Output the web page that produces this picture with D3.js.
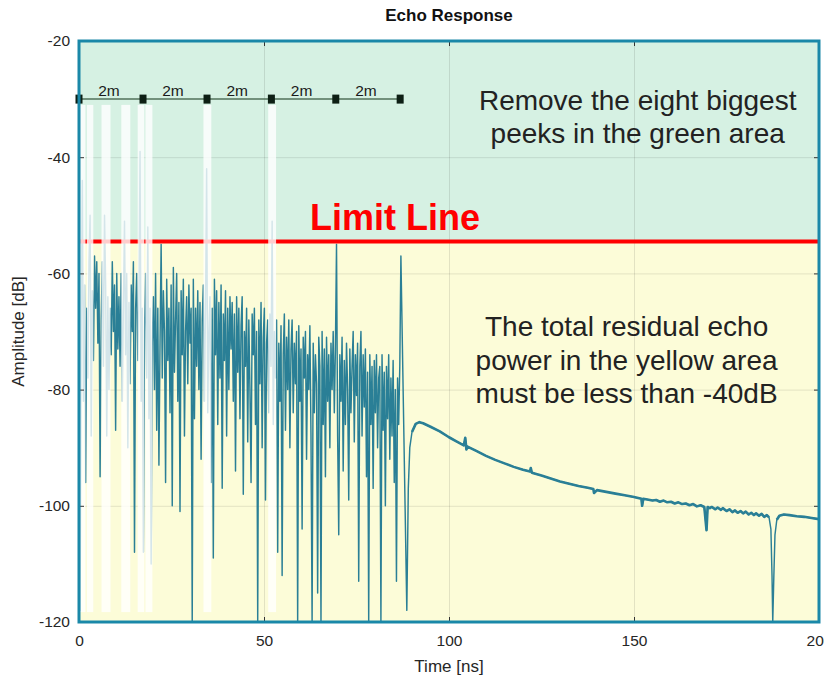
<!DOCTYPE html>
<html>
<head>
<meta charset="utf-8">
<script src="https://cdn.jsdelivr.net/npm/d3@7"></script>
<style>
  body { margin: 0; background: #fff; }
  svg { display: block; font-family: "Liberation Sans", Arial, Helvetica, sans-serif; }
</style>
</head>
<body>
<div id="chart-area"></div>
<script>
// ---- data ----
var xTicks = [0, 50, 100, 150, 200];
var yTicks = [-120, -100, -80, -60, -40, -20];
var limitLevel = -54.5;

// dense early echo, one sample every 0.3 ns from t = 0
var echoStep = 0.3;
var earlyEcho = [
  -21, -118, -70, -44, -82, -62, -96, -66, -78, -58,
  -50, -88, -63, -75, -57, -66, -58, -72, -60, -95,
  -68, -58, -76, -50, -62, -88, -64, -80, -66, -74,
  -58, -70, -62, -87, -60, -73, -64, -76, -60, -82,
  -66, -51, -74, -60, -90, -65, -79, -62, -70, -58,
  -108, -66, -60, -75, -64, -39, -82, -66, -108, -70,
  -60, -78, -52, -85, -66, -110, -72,
  -64, -80, -60, -87, -66, -93, -72, -55, -78, -63,
  -70, -96, -61, -75, -66, -84, -62, -100, -59, -77,
  -68, -60, -82, -65, -101, -63, -74, -61, -88, -70,
  -64, -79, -62, -72, -66, -120, -61, -85, -66, -76,
  -63, -80, -65, -92, -68, -62, -82, -66, -42, -84,
  -70, -64, -96, -66, -109, -61, -74, -63, -86, -65,
  -78, -62, -97, -67, -75, -63, -88, -66, -80, -64,
  -73, -65, -82, -67, -94, -64, -77, -66, -85, -69,
  -64, -98, -70, -76, -66, -89, -68, -80, -96, -67,
  -74, -66, -86, -70, -120, -68, -79, -65, -90, -71,
  -66, -99, -72, -68, -84, -67, -76, -51, -86, -70,
  -78, -68, -108, -72, -82, -69, -112, -74, -67, -87,
  -71, -80, -68, -90, -73, -68, -84, -72, -79, -70,
  -120, -69, -82, -73, -104, -71, -78, -70, -92, -74,
  -80, -69, -88, -120, -72, -84, -74, -79, -115, -71,
  -76, -120, -70, -86, -73, -95, -71, -82, -74, -90,
  -72, -80, -70, -84, -73, -55, -88, -105, -74, -82,
  -71, -94, -75, -86, -72, -80, -99, -73, -84, -76,
  -70, -89, -74, -81, -72, -113, -76, -70, -88, -74,
  -83, -73, -95, -77, -120, -74, -86, -76, -97, -75,
  -84, -74, -90, -78, -76, -120, -74, -87, -77, -100,
  -76, -85, -74, -92, -78, -88, -75, -96, -80, -113,
  -78, -86, -76, -57
];

// late reverberation tail
var tailTime = [
  88.6, 89.0, 89.4, 90.0, 91.0, 92.0, 93.0, 95.0, 97.5, 100,
  102, 104.0, 104.4, 104.7, 105.0, 107.5, 110, 112.5, 115, 117.5,
  120, 121.9, 122.1, 122.4, 125, 127.5, 130, 132.5, 135, 137.5,
  139, 139.2, 140, 142.5, 145, 147.5, 150, 152, 152.2, 152.5,
  155, 156, 157, 158, 159, 160, 161, 162, 163, 164,
  165, 166, 167, 168, 169, 169.6, 169.9, 170.5, 171, 172,
  172.6, 173.5, 174, 175, 175.8, 176.6, 177.3, 178, 178.8, 179.5,
  180.2, 181, 181.7, 182.4, 183, 183.8, 184.5, 185.2, 185.9, 186.5,
  187.0, 187.3, 187.5, 187.8, 188.1, 188.6, 189.3, 190.5, 192, 194,
  196, 198, 200
];
var tailAmp = [
  -118, -97, -90, -87.3, -85.9, -85.6, -85.8, -86.4, -87.2, -88.2,
  -88.9, -89.6, -88.3, -90.3, -89.8, -90.6, -91.4, -92.1, -92.7, -93.3,
  -93.8, -94.1, -93.5, -94.3, -94.8, -95.3, -95.8, -96.2, -96.6, -96.9,
  -97.1, -97.8, -97.3, -97.6, -97.9, -98.2, -98.5, -98.8, -100.0, -98.8,
  -99.1, -99.0, -99.3, -99.1, -99.4, -99.3, -99.6, -99.4, -99.7, -99.6,
  -99.9, -99.7, -100.1, -99.9, -100.2, -104.2, -100.2, -100.4, -100.2, -100.6,
  -100.3, -100.7, -100.4, -100.9, -100.6, -101.1, -100.8, -101.2, -100.9, -101.3,
  -101.0, -101.5, -101.2, -101.6, -101.3, -101.7, -101.4, -101.9, -101.6, -102.0,
  -104, -112, -120, -112, -105, -102.4, -101.7, -101.5, -101.6, -101.8,
  -101.9, -102.1, -102.3
];

// the eight removed peaks (white strips)
var peakCenter = [0.95, 3.0, 7.3, 12.65, 16.75, 18.9, 34.7, 52.2];
var peakWidth  = [1.85, 2.0, 2.7, 2.7, 2.05, 2.15, 2.4, 2.4];
var stripTop = -31, stripBottom = -118.3;

// distance scale bar
var scaleMarks = [0, 17.3, 34.6, 52.0, 69.4, 86.8];
var scaleLabels = ["2m", "2m", "2m", "2m", "2m"];
var scaleLevel = -30;

// ---- layout ----
var W = 824, H = 678;
var margin = {left: 79, right: 5, top: 41, bottom: 56};
var width = W - margin.left - margin.right;
var height = H - margin.top - margin.bottom;

var svg = d3.select("#chart-area").append("svg")
    .attr("width", W)
    .attr("height", H);

var g = svg.append("g")
    .attr("transform", "translate(" + margin.left + ", " + margin.top + ")");

var x = d3.scaleLinear().domain([0, 200]).range([0, width]);
var y = d3.scaleLinear().domain([-120, -20]).range([height, 0]);
var plain = (d) => String(d);

g.append("clipPath").attr("id", "plot-clip")
  .append("rect").attr("width", width).attr("height", height);

// background zones
g.append("rect")
    .attr("x", 0).attr("y", y(-20))
    .attr("width", width).attr("height", y(limitLevel) - y(-20))
    .attr("fill", "#d6f1e3");
g.append("rect")
    .attr("x", 0).attr("y", y(limitLevel))
    .attr("width", width).attr("height", y(-120) - y(limitLevel))
    .attr("fill", "#fcfcd8");

// grid
g.append("g")
    .attr("class", "grid")
    .attr("transform", "translate(0, " + height + ")")
    .call(d3.axisBottom(x).tickValues(xTicks).tickSize(-height).tickFormat(""))
    .call((s) => s.select(".domain").remove())
    .selectAll("line").attr("stroke", "#000").attr("stroke-opacity", 0.1);
g.append("g")
    .attr("class", "grid")
    .call(d3.axisLeft(y).tickValues(yTicks).tickSize(-width).tickFormat(""))
    .call((s) => s.select(".domain").remove())
    .selectAll("line").attr("stroke", "#000").attr("stroke-opacity", 0.1);

// signal
var echoPts = earlyEcho.map((v, i) => [i * echoStep, v]);
var tailPts = tailTime.map((t, i) => [t, tailAmp[i]]);
var line = d3.line().x((d) => x(d[0])).y((d) => y(d[1]));

var sig = g.append("g").attr("clip-path", "url(#plot-clip)");
sig.append("path")
    .attr("d", line(echoPts.concat(tailPts)))
    .attr("fill", "none")
    .attr("stroke", "#2a7f96")
    .attr("stroke-width", 1.45)
    .attr("stroke-linejoin", "round");
sig.append("path")
    .attr("d", line(tailPts.slice(3, 80)))
    .attr("fill", "none")
    .attr("stroke", "#2a7f96")
    .attr("stroke-width", 2.6)
    .attr("stroke-linejoin", "round");
sig.append("path")
    .attr("d", line(tailPts.slice(85)))
    .attr("fill", "none")
    .attr("stroke", "#2a7f96")
    .attr("stroke-width", 2.6)
    .attr("stroke-linejoin", "round");

// limit line
g.append("line")
    .attr("x1", 0).attr("x2", width)
    .attr("y1", y(limitLevel)).attr("y2", y(limitLevel))
    .attr("stroke", "#ff0000")
    .attr("stroke-width", 4);

// removed peaks
g.selectAll(".strip").data(peakCenter).enter()
  .append("rect")
    .attr("class", "strip")
    .attr("x", (d, i) => x(d - peakWidth[i] / 2) + 0.5)
    .attr("y", y(stripTop))
    .attr("width", (d, i) => x(peakWidth[i]) - x(0) - 1)
    .attr("height", y(stripBottom) - y(stripTop))
    .attr("fill", "#fff")
    .attr("fill-opacity", 0.8);

// inner ticks + labels
g.append("g")
    .attr("transform", "translate(0, " + height + ")")
    .call(d3.axisBottom(x).tickValues(xTicks).tickSize(-5).tickPadding(13).tickFormat(plain))
    .call((s) => s.select(".domain").remove())
    .call((s) => s.selectAll("line").attr("stroke", "#333"))
    .selectAll("text")
    .attr("font-size", "15.5px")
    .attr("fill", "#262626");
g.append("g")
    .call(d3.axisLeft(y).tickValues(yTicks).tickSize(-5).tickPadding(9).tickFormat(plain))
    .call((s) => s.select(".domain").remove())
    .call((s) => s.selectAll("line").attr("stroke", "#333"))
    .selectAll("text")
    .attr("font-size", "15.5px")
    .attr("fill", "#262626");
g.append("g")
    .call(d3.axisTop(x).tickValues(xTicks).tickSize(-5).tickFormat(""))
    .call((s) => s.select(".domain").remove())
    .selectAll("line").attr("stroke", "#333");
g.append("g")
    .attr("transform", "translate(" + width + ", 0)")
    .call(d3.axisRight(y).tickValues(yTicks).tickSize(-5).tickFormat(""))
    .call((s) => s.select(".domain").remove())
    .selectAll("line").attr("stroke", "#333");

// scale bar
g.append("line")
    .attr("x1", x(scaleMarks[0])).attr("x2", x(scaleMarks[scaleMarks.length - 1]))
    .attr("y1", y(scaleLevel)).attr("y2", y(scaleLevel))
    .attr("stroke", "#50705a")
    .attr("stroke-width", 1.5);
g.selectAll(".mark").data(scaleMarks).enter()
  .append("rect")
    .attr("x", (d) => x(d) - 3.5)
    .attr("y", y(scaleLevel) - 4.5)
    .attr("width", 7).attr("height", 9)
    .attr("fill", "#0d1f14");
g.selectAll(".scale-label").data(d3.pairs(scaleMarks)).enter()
  .append("text")
    .attr("x", (d) => x((d[0] + d[1]) / 2) - 2)
    .attr("y", y(scaleLevel) - 3)
    .attr("text-anchor", "middle")
    .attr("font-size", "15.5px")
    .attr("fill", "#1a1a1a")
    .text((d, i) => scaleLabels[i]);

// frame
g.append("rect")
    .attr("width", width).attr("height", height)
    .attr("fill", "none")
    .attr("stroke", "#1a88a8")
    .attr("stroke-width", 3);

// annotations
g.append("text")
    .attr("x", x(151)).attr("y", 110 - margin.top)
    .attr("text-anchor", "middle")
    .attr("font-size", "28px").attr("fill", "#222")
    .text("Remove the eight biggest");
g.append("text")
    .attr("x", x(151)).attr("y", 143 - margin.top)
    .attr("text-anchor", "middle")
    .attr("font-size", "28px").attr("fill", "#222")
    .text("peeks in the green area");
g.append("text")
    .attr("x", 310 - margin.left).attr("y", 230 - margin.top)
    .attr("font-size", "36px").attr("font-weight", "bold")
    .attr("fill", "#ff0000")
    .text("Limit Line");
["The total residual echo", "power in the yellow area", "must be less than -40dB"].forEach((t, i) => {
  g.append("text")
      .attr("x", x(148)).attr("y", 336 - margin.top + i * 33.5)
      .attr("text-anchor", "middle")
      .attr("font-size", "28px").attr("fill", "#222")
      .text(t);
});

// titles
svg.append("text")
    .attr("x", margin.left + width / 2).attr("y", 21)
    .attr("text-anchor", "middle")
    .attr("font-size", "17px").attr("font-weight", "bold")
    .attr("fill", "#111")
    .text("Echo Response");
svg.append("text")
    .attr("x", margin.left + width / 2).attr("y", 672)
    .attr("text-anchor", "middle")
    .attr("font-size", "17px").attr("fill", "#262626")
    .text("Time [ns]");
svg.append("text")
    .attr("transform", "translate(24, " + (margin.top + height / 2) + ") rotate(-90)")
    .attr("text-anchor", "middle")
    .attr("font-size", "17px").attr("fill", "#262626")
    .text("Amplitude [dB]");
</script>
</body>
</html>
